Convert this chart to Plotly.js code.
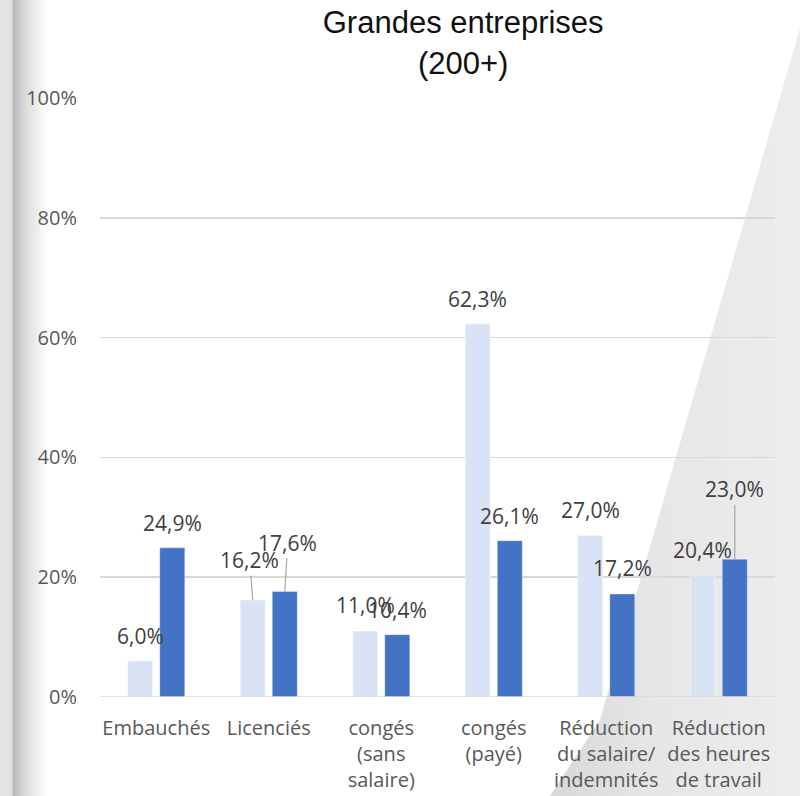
<!DOCTYPE html>
<html>
<head>
<meta charset="utf-8">
<script src="https://cdn.plot.ly/plotly-3.0.1.min.js"></script>
<style>
  html, body { margin: 0; padding: 0; background: #ffffff; }
  #wrap { position: relative; width: 800px; height: 796px; overflow: hidden; background: #ffffff; }
  #bgLeft { position: absolute; left: 0; top: 0; width: 60px; height: 796px;
    background: linear-gradient(to right, #e6e6e6 0px, #e2e2e2 12px, #b8b8b8 13px, #dcdcdc 26px, #ffffff 48px); }
  #bgRight { position: absolute; left: 0; top: 0; width: 800px; height: 796px;
    background: linear-gradient(to right, #d8d8d8 550px, #e6e6e6 650px, #ededed 800px);
    clip-path: polygon(808px 0px, 800px 0px, 800px 796px, 550px 796px, 600px 720px); }
  #chart { position: absolute; left: 0; top: 0; width: 800px; height: 796px; }
</style>
</head>
<body>
<div id="wrap">
  <div id="bgLeft"></div>
  <div id="bgRight"></div>
  <div id="chart"></div>
</div>
<script>
// ---- data ----
const categories = [
  "Embauchés",
  "Licenciés",
  "congés<br>(sans<br>salaire)",
  "congés<br>(payé)",
  "Réduction<br>du salaire/<br>indemnités",
  "Réduction<br>des heures<br>de travail"
];
const seriesNames = ["Série 1", "Série 2"];
const lightValues = [6.0, 16.2, 11.0, 62.3, 27.0, 20.4];
const darkValues  = [24.9, 17.6, 10.4, 26.1, 17.2, 23.0];
const yTickValues = [0, 20, 40, 60, 80, 100];
const yTickLabels = ["0%", "20%", "40%", "60%", "80%", "100%"];

// ---- label styling (pixel offsets only) ----
const lightLabelStyle = [
  {dx: 0, dy: -25}, {dx: -3, dy: -40, leader: true}, {dx: 0, dy: -26},
  {dx: 0, dy: -25}, {dx: 0, dy: -25}, {dx: 0, dy: -25}
];
const darkLabelStyle = [
  {dx: 0, dy: -25}, {dx: 3, dy: -49, leader: true}, {dx: 0, dy: -25},
  {dx: 0, dy: -25}, {dx: 0, dy: -26}, {dx: 0, dy: -70, leader: true}
];

const BARGAP = 0.43;
const GROUPOFF = (1 - BARGAP) / 4;
const fmt = v => v.toFixed(1).replace('.', ',') + '%';

const traces = [
  {
    type: 'bar', name: seriesNames[0], x: categories, y: lightValues,
    marker: {color: '#DAE3F3', line: {color: 'rgba(255,255,255,0.5)', width: 1}},
    hoverinfo: 'none'
  },
  {
    type: 'bar', name: seriesNames[1], x: categories, y: darkValues,
    marker: {color: '#4472C4', line: {color: 'rgba(255,255,255,0.35)', width: 1}},
    hoverinfo: 'none'
  }
];

const labelFont = {family: 'Open Sans, sans-serif', size: 21, color: '#404040'};
const annotations = [];
function addLabels(values, styles, sign) {
  values.forEach((v, i) => {
    const s = styles[i];
    const a = {
      xref: 'x', yref: 'y', x: i + sign * GROUPOFF, y: v,
      text: fmt(v), font: labelFont
    };
    if (s.leader) {
      Object.assign(a, {showarrow: true, arrowhead: 0, arrowwidth: 1.2,
        arrowcolor: '#a6a6a6', ax: s.dx, ay: s.dy, standoff: 0, startstandoff: 0});
    } else {
      Object.assign(a, {showarrow: false, xshift: s.dx, yshift: -s.dy});
    }
    annotations.push(a);
  });
}
addLabels(lightValues, lightLabelStyle, -1);
addLabels(darkValues, darkLabelStyle, 1);

const layout = {
  width: 800, height: 796,
  margin: {l: 100, r: 25, t: 98, b: 99},
  paper_bgcolor: 'rgba(0,0,0,0)',
  plot_bgcolor: 'rgba(0,0,0,0)',
  showlegend: false,
  barmode: 'group',
  bargap: BARGAP,
  bargroupgap: 0.22,
  title: {
    text: 'Grandes entreprises<br>(200+)',
    font: {family: 'Liberation Sans, Arial, sans-serif', size: 31, color: '#111111'},
    x: 0.579, xref: 'container', xanchor: 'center',
    y: 0.958, yref: 'container', yanchor: 'top'
  },
  xaxis: {
    type: 'category',
    range: [-0.5, 5.5],
    showgrid: false, zeroline: false, showline: false, ticks: '',
    tickfont: {family: 'Open Sans, sans-serif', size: 20, color: '#595959'},
    ticklabelstandoff: 17,
    fixedrange: true
  },
  yaxis: {
    range: [0, 100],
    tickvals: yTickValues, ticktext: yTickLabels,
    showgrid: true, gridcolor: '#d9d9d9', gridwidth: 1.5,
    zeroline: false, showline: false, ticks: '',
    tickfont: {family: 'Open Sans, sans-serif', size: 20, color: '#595959'},
    ticklabelstandoff: 22,
    fixedrange: true
  },
  shapes: [
    {type: 'line', xref: 'paper', yref: 'y', x0: 0, x1: 1, y0: 0, y1: 0,
     line: {color: '#d9d9d9', width: 1.5}, layer: 'above'}
  ],
  annotations: annotations
};

Plotly.newPlot('chart', traces, layout, {displayModeBar: false, staticPlot: true});
</script>
</body>
</html>
